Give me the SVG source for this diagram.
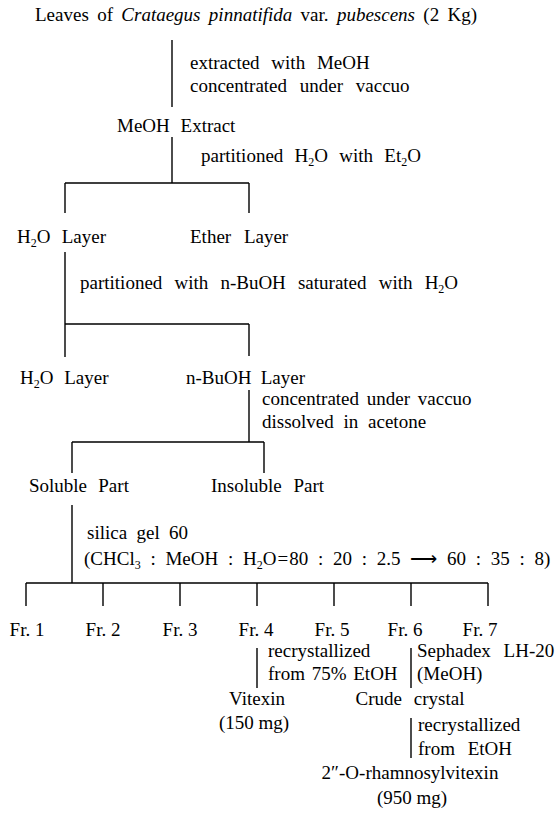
<svg xmlns="http://www.w3.org/2000/svg" width="560" height="814" viewBox="0 0 560 814">
<style>
text{font-family:"Liberation Serif","Times New Roman",serif;font-size:19px;fill:#000;}
.i{font-style:italic;}
.s{font-size:12px;}
.m{text-anchor:middle;}
.ln{stroke:#000;stroke-width:1.4;fill:none;}
</style>
<rect width="560" height="814" fill="#fff"/>
<g id="connectors" class="ln">
<path d="M172,40V107"/>
<path d="M172,137V183"/>
<path d="M65,183H249M65,183V213M249,183V213"/>
<path d="M65,252V357M65,324H249M249,324V356"/>
<path d="M249,390V442M72,442H264M72,442V473M264,442V473"/>
<path d="M72,505V583M26,583H488"/>
<path d="M26,583V606M103,583V606M180,583V606M257,583V606M334,583V606M411,583V606M488,583V606"/>
<path d="M257,648V688M411,648V688"/>
<path d="M411,718V758"/>
</g>
<g id="leaves"><text x="35" y="21" word-spacing="3.6">Leaves of <tspan class="i">Crataegus pinnatifida</tspan> var. <tspan class="i">pubescens</tspan> (2 Kg)</text></g>
<g id="step1"><text x="190" y="69" word-spacing="7">extracted with MeOH</text><text x="190" y="92" word-spacing="8">concentrated under vaccuo</text></g>
<g id="meoh-extract"><text x="117" y="132" word-spacing="6">MeOH Extract</text></g>
<g id="step2"><text x="201" y="162" word-spacing="6.5">partitioned H<tspan class="s" dy="4">2</tspan><tspan dy="-4">O with Et</tspan><tspan class="s" dy="4">2</tspan><tspan dy="-4">O</tspan></text></g>
<g id="h2o-layer-1"><text x="17" y="243" word-spacing="6.5">H<tspan class="s" dy="4">2</tspan><tspan dy="-4">O Layer</tspan></text></g>
<g id="ether-layer"><text x="190" y="243" word-spacing="8">Ether Layer</text></g>
<g id="step3"><text x="80" y="289" word-spacing="7.4">partitioned with n-BuOH saturated with H<tspan class="s" dy="4">2</tspan><tspan dy="-4">O</tspan></text></g>
<g id="h2o-layer-2"><text x="20" y="384" word-spacing="6">H<tspan class="s" dy="4">2</tspan><tspan dy="-4">O Layer</tspan></text></g>
<g id="buoh-layer"><text x="186" y="384" word-spacing="4.5">n-BuOH Layer</text></g>
<g id="step4"><text x="262" y="405" font-size="18" word-spacing="3">concentrated under vaccuo</text><text x="262" y="428" font-size="18" word-spacing="5">dissolved in acetone</text></g>
<g id="soluble"><text x="29" y="492" word-spacing="6.5">Soluble Part</text></g>
<g id="insoluble"><text x="211" y="492" word-spacing="7">Insoluble Part</text></g>
<g id="step5"><text x="87" y="539" word-spacing="4.6">silica gel 60</text><text x="84" y="565" word-spacing="5">(CHCl<tspan class="s" dy="4">3</tspan><tspan dy="-4"> : MeOH : H</tspan><tspan class="s" dy="4">2</tspan><tspan dy="-4">O</tspan><tspan dx="1">=</tspan><tspan dx="1">80 : 20 : 2.5 ⟶ 60 : 35 : 8)</tspan></text></g>
<g id="fr1"><text class="m" x="27" y="636">Fr. 1</text></g>
<g id="fr2"><text class="m" x="103" y="636">Fr. 2</text></g>
<g id="fr3"><text class="m" x="180" y="636">Fr. 3</text></g>
<g id="fr4"><text class="m" x="256" y="636">Fr. 4</text></g>
<g id="fr5"><text class="m" x="332" y="636">Fr. 5</text></g>
<g id="fr6"><text class="m" x="405" y="636">Fr. 6</text></g>
<g id="fr7"><text class="m" x="480" y="636">Fr. 7</text></g>
<g id="step6"><text x="268" y="657">recrystallized</text><text x="268" y="680" word-spacing="2">from 75% EtOH</text></g>
<g id="step7"><text x="417" y="657" word-spacing="8">Sephadex LH-20</text><text x="417" y="680">(MeOH)</text></g>
<g id="vitexin"><text class="m" x="257" y="705">Vitexin</text><text class="m" x="254" y="729">(150 mg)</text></g>
<g id="crude"><text class="m" x="410" y="705" word-spacing="7">Crude crystal</text></g>
<g id="step8"><text x="418" y="731">recrystallized</text><text x="418" y="755" word-spacing="8">from EtOH</text></g>
<g id="rhamnosylvitexin"><text class="m" x="410" y="779">2″-O-rhamnosylvitexin</text><text class="m" x="412" y="804">(950 mg)</text></g>
</svg>
